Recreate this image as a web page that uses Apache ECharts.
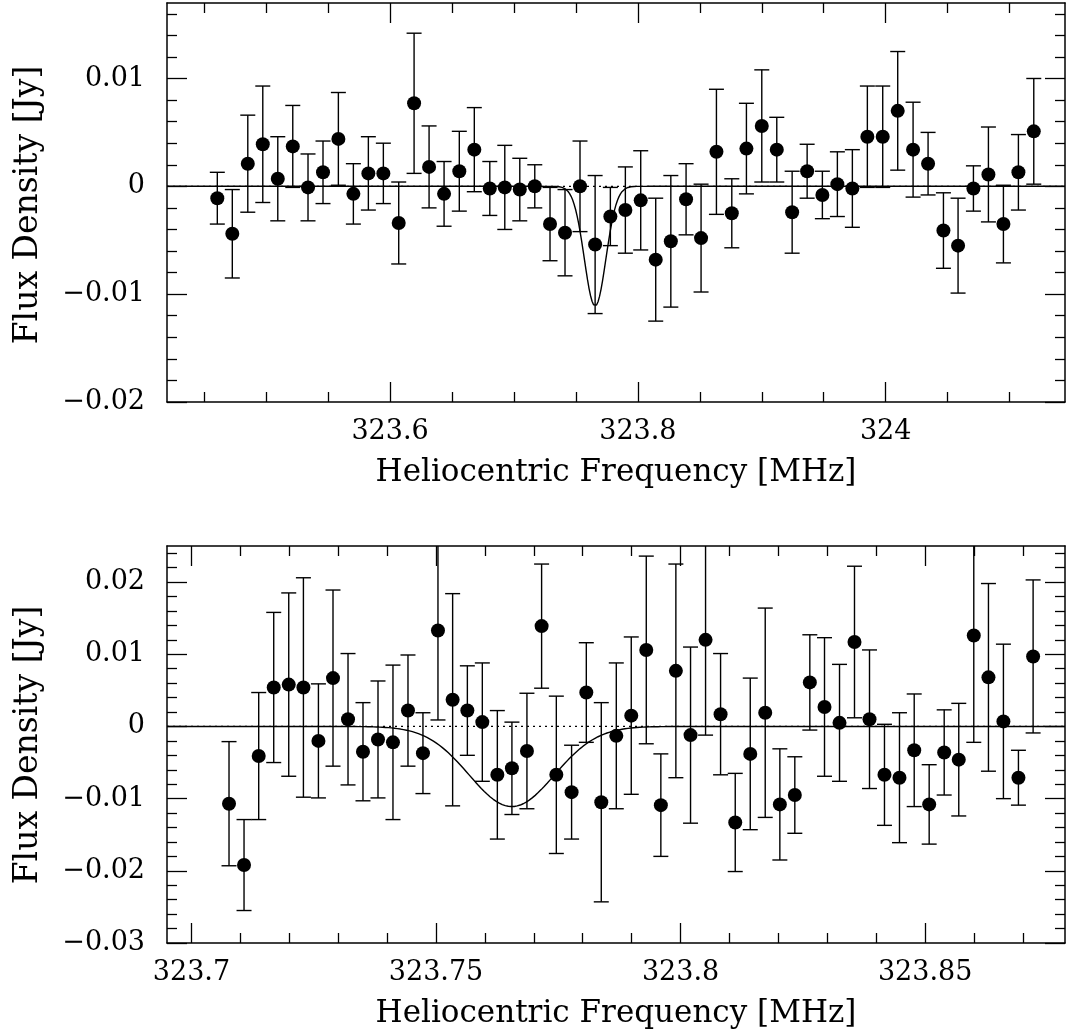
<!DOCTYPE html>
<html><head><meta charset="utf-8">
<script src="https://cdn.jsdelivr.net/npm/echarts@6/dist/echarts.min.js"></script>
<style>html,body{margin:0;padding:0;background:#fff;}#c{width:1066px;height:1032px;}</style>
</head><body><div id="c"></div>
<script>
// ---------- top panel data ----------
const topFreq = [323.4606,323.4727,323.4852,323.4973,323.5094,323.5215,323.5338,323.5459,323.5583,323.5704,
 323.5825,323.5946,323.6070,323.6194,323.6315,323.6436,323.6559,323.6680,323.6805,323.6926,
 323.7047,323.7168,323.7291,323.7412,323.7533,323.7655,323.7778,323.7899,323.8023,323.8144,
 323.8266,323.8389,323.8510,323.8634,323.8758,323.8876,323.9000,323.9121,323.9245,323.9366,
 323.9489,323.9610,323.9731,323.9852,323.9976,324.0097,324.0221,324.0342,324.0466,324.0584,
 324.0708,324.0829,324.0950,324.1071,324.1195];
const topFlux = [-0.0011,-0.0044,0.0021,0.0039,0.0007,0.0037,-0.0001,0.0013,0.0044,-0.0007,
 0.0012,0.0012,-0.0034,0.0077,0.0018,-0.0007,0.0014,0.0034,-0.0002,-0.0001,
 -0.0003,0.0000,-0.0035,-0.0043,0.0000,-0.0054,-0.0028,-0.0022,-0.0013,-0.0068,
 -0.0051,-0.0012,-0.0048,0.0032,-0.0025,0.0035,0.0056,0.0034,-0.0024,0.0014,
 -0.0008,0.0002,-0.0002,0.0046,0.0046,0.0070,0.0034,0.0021,-0.0041,-0.0055,
 -0.0002,0.0011,-0.0035,0.0013,0.0051];
const topErr = [0.0024,0.0041,0.0045,0.0054,0.0039,0.0038,0.0031,0.0029,0.0043,0.0028,
 0.0034,0.0028,0.0038,0.0065,0.0038,0.0030,0.0037,0.0039,0.0025,0.0039,
 0.0029,0.0020,0.0034,0.0040,0.0042,0.0064,0.0027,0.0040,0.0046,0.0057,
 0.0061,0.0033,0.0050,0.0058,0.0032,0.0042,0.0052,0.0030,0.0038,0.0025,
 0.0022,0.0030,0.0036,0.0047,0.0047,0.0055,0.0044,0.0029,0.0035,0.0044,
 0.0021,0.0044,0.0036,0.0035,0.0049];

// ---------- bottom panel data ----------
const botFreq = [323.70768,323.71075,323.71375,323.71682,323.71989,323.72289,323.72596,323.72894,323.73201,323.73507,
 323.73814,323.74120,323.74427,323.74733,323.75040,323.75340,323.75641,323.75947,323.76254,323.76552,
 323.76859,323.77159,323.77460,323.77772,323.78073,323.78379,323.78686,323.78992,323.79299,323.79597,
 323.79904,323.80204,323.80511,323.80818,323.81118,323.81425,323.81731,323.82030,323.82336,323.82643,
 323.82943,323.83250,323.83556,323.83863,323.84169,323.84476,323.84777,323.85083,323.85390,323.85688,
 323.85995,323.86295,323.86601,323.86908,323.87208];
const botFlux = [-0.0107,-0.0192,-0.0041,0.0054,0.0058,0.0054,-0.0020,0.0067,0.0010,-0.0035,
 -0.0018,-0.0022,0.0022,-0.0037,0.0133,0.0037,0.0022,0.0006,-0.0067,-0.0058,
 -0.0034,0.0139,-0.0067,-0.0091,0.0047,-0.0105,-0.0013,0.0015,0.0106,-0.0109,
 0.0077,-0.0012,0.0120,0.0017,-0.0133,-0.0038,0.0019,-0.0108,-0.0095,0.0061,
 0.0027,0.0005,0.0117,0.0010,-0.0067,-0.0071,-0.0033,-0.0108,-0.0036,-0.0046,
 0.0126,0.0068,0.0007,-0.0071,0.0097];
const botErr = [0.0086,0.0063,0.0088,0.0104,0.0127,0.0152,0.0079,0.0122,0.0091,0.0068,
 0.0081,0.0107,0.0077,0.0056,0.0124,0.0147,0.0062,0.0082,0.0089,0.0064,
 0.0080,0.0086,0.0109,0.0065,0.0069,0.0138,0.0101,0.0109,0.0130,0.0071,
 0.0148,0.0122,0.0132,0.0084,0.0068,0.0105,0.0145,0.0077,0.0053,0.0066,
 0.0096,0.0081,0.0105,0.0096,0.0070,0.0090,0.0078,0.0055,0.0059,0.0078,
 0.0148,0.0130,0.0107,0.0038,0.0106];

// ---------- Gaussian fit parameters ----------
const fitCenter = 323.7655;
const fitDepth = -0.0111;
const fitSigma = 0.0087;

// ---------- axes ranges & tick labels ----------
const topXRange = [323.42, 324.1447];
const topYRange = [-0.02, 0.017];
const botXRange = [323.695, 323.8786];
const botYRange = [-0.03, 0.025];
const topXMajor = [323.6, 323.8, 324];
const topYMajor = [-0.02, -0.01, 0, 0.01];
const botXMajor = [323.7, 323.75, 323.8, 323.85];
const botYMajor = [-0.03, -0.02, -0.01, 0, 0.01, 0.02];
const xTitle = 'Heliocentric Frequency [MHz]';
const yTitle = 'Flux Density [Jy]';

function steps(a, b, s, majors) {
  const out = [], n = Math.round((b - a) / s);
  for (let i = 0; i <= n; i++) {
    const v = +(a + i * s).toFixed(6);
    if (!majors.some(m => Math.abs(m - v) < 1e-9)) out.push(v);
  }
  return out;
}
const topXMinor = steps(323.45, 324.10, 0.05, topXMajor);
const topYMinor = steps(-0.018, 0.016, 0.002, topYMajor);
const botXMinor = steps(323.70, 323.87, 0.01, botXMajor);
const botYMinor = steps(-0.028, 0.024, 0.002, botYMajor);

const FONT = 'DejaVu Serif';
const FS = 27;
const xFmt = v => String(+v.toFixed(4));
const yFmt = v => (Math.abs(v) < 1e-12 ? '0' : String(+v.toFixed(4)).replace('-', '\u2212'));

function axis(kind, grid, range, pos, vals, len, labels, line, fmt, name) {
  const a = {
    type: 'value', gridIndex: grid, min: range[0], max: range[1], position: pos,
    axisLine: { show: line, onZero: false, lineStyle: { color: '#000', width: 1.5 } },
    axisTick: { show: true, inside: true, length: len, customValues: vals, lineStyle: { color: '#000', width: 1.3 } },
    axisLabel: { show: labels, customValues: vals, margin: kind === 'x' ? 16 : 22, color: '#000', fontFamily: FONT, fontSize: FS, formatter: fmt },
    splitLine: { show: false }, minorTick: { show: false }
  };
  if (name) {
    a.name = name; a.nameLocation = 'middle';
    a.nameTextStyle = { color: '#000', fontFamily: FONT, fontSize: 31 };
    a.nameGap = 55;
  }
  return a;
}

const xAxes = [], yAxes = [];
function addAxes(grid, xr, yr, xMaj, xMin, yMaj, yMin) {
  xAxes.push(axis('x', grid, xr, 'bottom', xMaj, 20, true, true, xFmt, xTitle));
  xAxes.push(axis('x', grid, xr, 'bottom', xMin, 10, false, false, xFmt));
  xAxes.push(axis('x', grid, xr, 'top', xMaj, 20, false, true, xFmt));
  xAxes.push(axis('x', grid, xr, 'top', xMin, 10, false, false, xFmt));
  yAxes.push(axis('y', grid, yr, 'left', yMaj, 20, true, true, yFmt));
  yAxes.push(axis('y', grid, yr, 'left', yMin, 10, false, false, yFmt));
  yAxes.push(axis('y', grid, yr, 'right', yMaj, 20, false, true, yFmt));
  yAxes.push(axis('y', grid, yr, 'right', yMin, 10, false, false, yFmt));
}
addAxes(0, topXRange, topYRange, topXMajor, topXMinor, topYMajor, topYMinor);
addAxes(1, botXRange, botYRange, botXMajor, botXMinor, botYMajor, botYMinor);

function fitLine(xr) {
  const pts = [], n = 600;
  for (let i = 0; i <= n; i++) {
    const x = xr[0] + (xr[1] - xr[0]) * i / n;
    const z = (x - fitCenter) / fitSigma;
    pts.push([x, fitDepth * Math.exp(-0.5 * z * z)]);
  }
  return pts;
}

function panelSeries(idx, freq, flux, err, xr, yr) {
  const xi = idx * 4, yi = idx * 4;
  const ebData = freq.map((f, i) => [f, flux[i] - err[i], flux[i] + err[i]]);
  return [
    { type: 'line', xAxisIndex: xi, yAxisIndex: yi, data: [[xr[0], 0], [xr[1], 0]], showSymbol: false, symbol: 'none',
      lineStyle: { color: '#000', width: 1.3, type: [2, 4] }, silent: true, z: 1 },
    { type: 'line', xAxisIndex: xi, yAxisIndex: yi, data: fitLine(xr), showSymbol: false, symbol: 'none',
      lineStyle: { color: '#000', width: 1.4 }, silent: true, z: 2 },
    { type: 'custom', xAxisIndex: xi, yAxisIndex: yi, data: ebData, z: 3, silent: true,
      renderItem: function (params, api) {
        const x = api.value(0), lo = api.value(1), hi = api.value(2);
        const loC = Math.max(lo, yr[0]), hiC = Math.min(hi, yr[1]);
        const p1 = api.coord([x, loC]), p2 = api.coord([x, hiC]);
        const w = 7.5, st = { stroke: '#000', lineWidth: 1.4 };
        const ch = [{ type: 'line', shape: { x1: p1[0], y1: p1[1], x2: p2[0], y2: p2[1] }, style: st }];
        if (lo >= yr[0]) ch.push({ type: 'line', shape: { x1: p1[0] - w, y1: p1[1], x2: p1[0] + w, y2: p1[1] }, style: st });
        if (hi <= yr[1]) ch.push({ type: 'line', shape: { x1: p2[0] - w, y1: p2[1], x2: p2[0] + w, y2: p2[1] }, style: st });
        return { type: 'group', children: ch };
      } },
    { type: 'scatter', xAxisIndex: xi, yAxisIndex: yi, data: freq.map((f, i) => [f, flux[i]]),
      symbol: 'circle', symbolSize: 14, itemStyle: { color: '#000', opacity: 1 }, z: 4, silent: true }
  ];
}

function yTitleText(cy) {
  return { type: 'text', x: 28, y: cy, rotation: Math.PI / 2, silent: true,
    style: { text: yTitle, fill: '#000', font: '33px "DejaVu Serif"', align: 'center', verticalAlign: 'middle' } };
}

const chart = echarts.init(document.getElementById('c'), null, { renderer: 'canvas' });
chart.setOption({
  animation: false,
  backgroundColor: '#fff',
  grid: [
    { left: 167, right: 1, top: 3, height: 399 },
    { left: 167, right: 1, top: 546, height: 397 }
  ],
  xAxis: xAxes,
  yAxis: yAxes,
  graphic: [yTitleText(205), yTitleText(745)],
  series: [].concat(
    panelSeries(0, topFreq, topFlux, topErr, topXRange, topYRange),
    panelSeries(1, botFreq, botFlux, botErr, botXRange, botYRange)
  )
});
</script></body></html>
